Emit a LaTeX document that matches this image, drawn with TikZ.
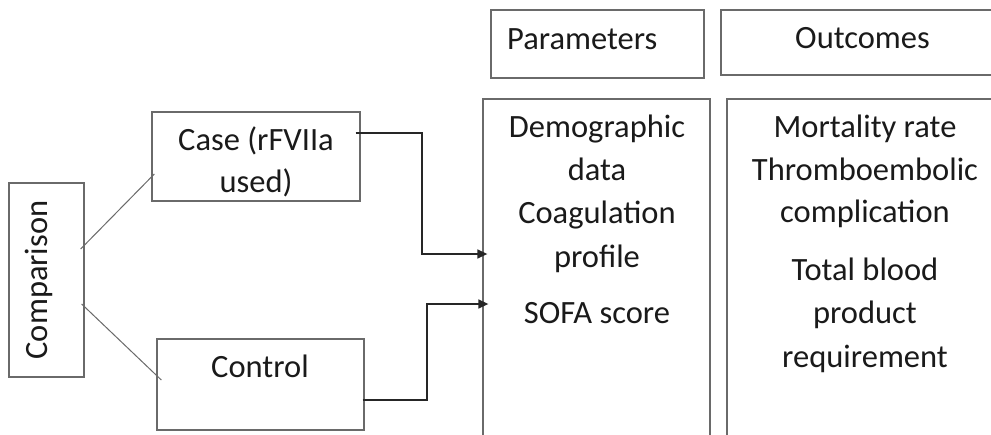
\documentclass[tikz,border=0pt]{standalone}
\usepackage{fontspec}
\setmainfont{Carlito}
\usetikzlibrary{arrows.meta}
\definecolor{boxgray}{HTML}{6A6A6A}
\definecolor{linedark}{HTML}{262626}
\definecolor{textblack}{HTML}{1A1A1A}
\begin{document}
\begin{tikzpicture}[x=1pt,y=-1pt,
  box/.style={draw=boxgray, line width=1.3pt, rectangle, inner sep=0pt},
  txt/.style={anchor=base, inner sep=0pt, text=textblack, font=\fontsize{32.5}{43}\selectfont},
  conn/.style={draw=linedark, line width=1.5pt, -{Triangle[length=10pt,width=9pt]}},
  link/.style={draw=boxgray, line width=1pt}]
\clip (0,0) rectangle (991,434);
\fill[white] (0,0) rectangle (991,434);
% boxes
\node[box, minimum width=75pt, minimum height=194pt] (comp) at (46.5,280) {};
\node[box, minimum width=208pt, minimum height=89pt] (case) at (256,156.5) {};
\node[box, minimum width=207pt, minimum height=91pt] (ctrl) at (260.5,384.5) {};
\node[box, minimum width=213pt, minimum height=68pt] (parh) at (597.5,44) {};
\node[box, minimum width=289pt, minimum height=65pt] (outh) at (865.5,42.5) {};
\node[box, minimum width=227pt, minimum height=361pt] (parb) at (596.5,279.5) {};
\node[box, minimum width=278pt, minimum height=361pt] (outb) at (866,279.5) {};
% texts
\node[txt, rotate=90] (tcomp) at (47,280) {Comparison};
\node[txt] (tcase1) at (256,150) {Case (rFVIIa};
\node[txt] (tcase2) at (256,192) {used)};
\node[txt] (tctrl) at (260,377) {Control};
\node[txt, anchor=base west] (tparh) at (507,49) {Parameters};
\node[txt] (touth) at (862.5,48) {Outcomes};
\node[txt] (p1) at (597,137) {Demographic};
\node[txt] (p2) at (597,180) {data};
\node[txt] (p3) at (597,223) {Coagulation};
\node[txt] (p4) at (597,267) {profile};
\node[txt] (p5) at (597,323) {SOFA score};
\node[txt] (o1) at (865,137) {Mortality rate};
\node[txt] (o2) at (865,180) {Thromboembolic};
\node[txt] (o3) at (865,222) {complication};
\node[txt] (o4) at (865,280) {Total blood};
\node[txt] (o5) at (865,323) {product};
\node[txt] (o6) at (865,367) {requirement};
% connectors
\draw[link] ([xshift=-4pt,yshift=31pt]comp.east) -- ([xshift=3pt,yshift=-17.5pt]case.west);
\draw[link] ([xshift=-3pt,yshift=-24pt]comp.east) -- ([xshift=5pt,yshift=4.5pt]ctrl.west);
\draw[conn] ([xshift=-5pt,yshift=23.5pt]case.east) -| (422,254) -- ([xshift=5pt,yshift=25.5pt]parb.west);
\draw[conn] ([xshift=-2pt,yshift=-15.5pt]ctrl.east) -| (427,304) -- ([xshift=6pt,yshift=-24.5pt]parb.west);
\end{tikzpicture}
\end{document}
